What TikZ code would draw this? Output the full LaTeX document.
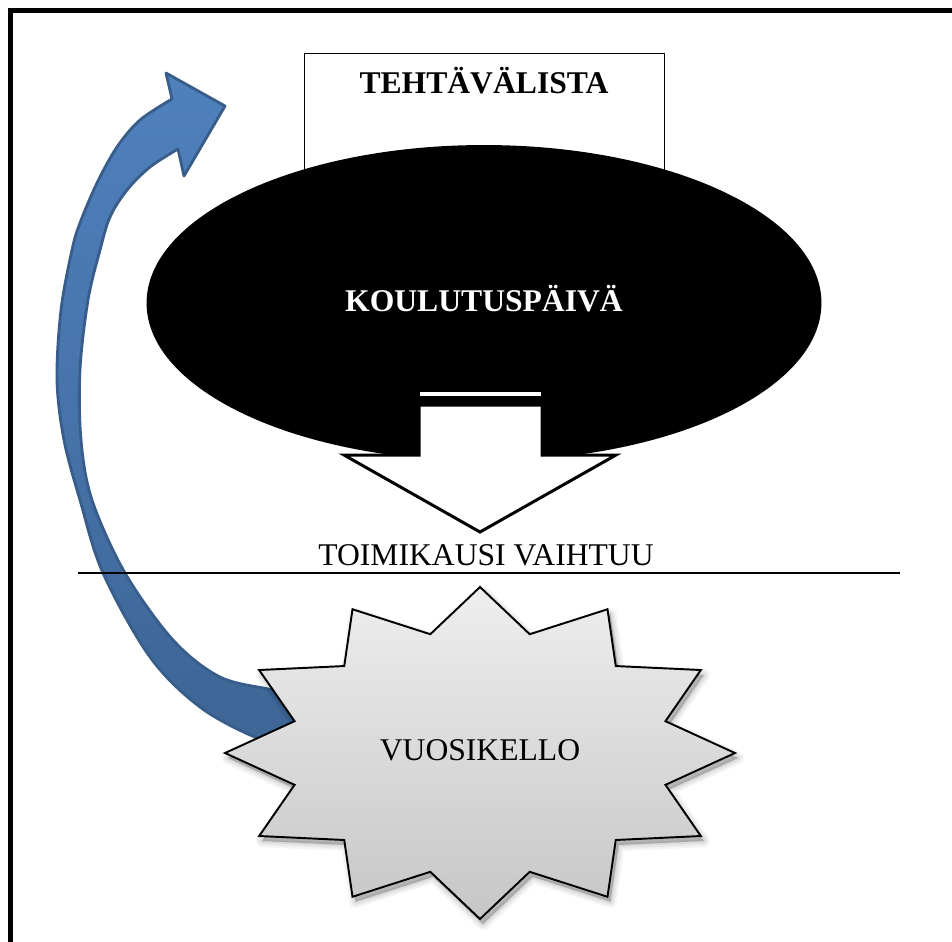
\documentclass[tikz,border=0pt]{standalone}
\usepackage{fontspec}
\setmainfont{Liberation Serif}
\usetikzlibrary{shapes.geometric}
\definecolor{arrowtop}{HTML}{4F81BD}
\definecolor{arrowbottom}{HTML}{3D6595}
\definecolor{arrowline}{HTML}{385D8A}
\definecolor{startop}{HTML}{EEEEEE}
\definecolor{starbottom}{HTML}{C6C6C6}
\tikzset{
  label18/.style={font=\fontsize{18}{22}\selectfont, inner sep=0pt, anchor=base},
  starpath/.style={insert path={(735,753)
    \foreach \i [evaluate=\i as \r using {mod(\i,2)==0?255:192},
                 evaluate=\i as \q using {mod(\i,2)==0?166:123}] in {1,...,23}
      { -- ({480+\r*cos(15*\i)},{753-\q*sin(15*\i)}) } -- cycle}},
}
\begin{document}
\begin{tikzpicture}[x=0.02cm, y=-0.02cm]
  \useasboundingbox (0,0) rectangle (952,941);
  \clip (0,0) rectangle (952,941);
  \fill[white] (0,0) rectangle (952,941);

  % page frame, open to the right and bottom
  \draw[line width=2.8pt] (10.5,990) -- (10.5,10.5) -- (990,10.5);

  % task list box, partly hidden by the ellipse
  \node[draw, line width=0.6pt, fill=white, minimum width=7.2cm, minimum height=4cm,
        inner sep=0pt, anchor=north west] (tasks) at (304,53) {};
  \node[label18, font=\fontsize{18}{22}\selectfont\bfseries] (tasksLabel) at (484,93) {TEHTÄVÄLISTA};

  % curved blue return arrow
  \shade[top color=arrowtop, bottom color=arrowbottom, draw=arrowline, line width=1.6pt, line join=round]
    plot[smooth, tension=0.55] coordinates {(310,754) (257,738) (200,707) (150,657) (103,573)
      (80,500) (64,440) (57,380) (61,310) (72,250) (80,223) (97,183) (117,147) (140,120) (172,99)}
    -- (166,73) -- (225,106) -- (184,176) -- (178,149)
    -- plot[smooth, tension=0.55] coordinates {(178,149) (150,167) (127,190) (110,217) (100,250)
      (88,300) (80,370) (81,440) (92,500) (125,573) (173,640) (220,677) (273,690) (315,700)}
    -- cycle;

  % training day ellipse
  \node[ellipse, fill=black, minimum width=13.5cm, minimum height=6.32cm, inner sep=0pt] (day) at (484,303) {};
  \node[label18, text=white, font=\fontsize{18}{22}\selectfont\bfseries] (dayLabel) at (484,311) {KOULUTUSPÄIVÄ};

  % white down arrow leaving the ellipse
  \fill[white] (420,392) rectangle (541,396);
  \draw[fill=white, line width=1.7pt, line join=miter]
    (419,405) -- (542,405) -- (542,455) -- (616,455) -- (480,532) -- (344,455) -- (419,455) -- cycle;

  % term change
  \node[label18] (term) at (486,565) {TOIMIKAUSI VAIHTUU};
  \draw[line width=0.8pt] (78,573) -- (900,573);

  % annual clock starburst with a soft shadow
  \foreach \w/\o in {7/0.04, 4.5/0.05, 2/0.06}
    \path[shift={(3,5)}, starpath, fill=black, fill opacity=0.08, draw=black, draw opacity=\o, line width=\w pt, line join=round];
  \shade[starpath, top color=startop, bottom color=starbottom, draw=black, line width=1.1pt, line join=miter];
  \node[label18] (clock) at (480,760) {VUOSIKELLO};
\end{tikzpicture}
\end{document}
